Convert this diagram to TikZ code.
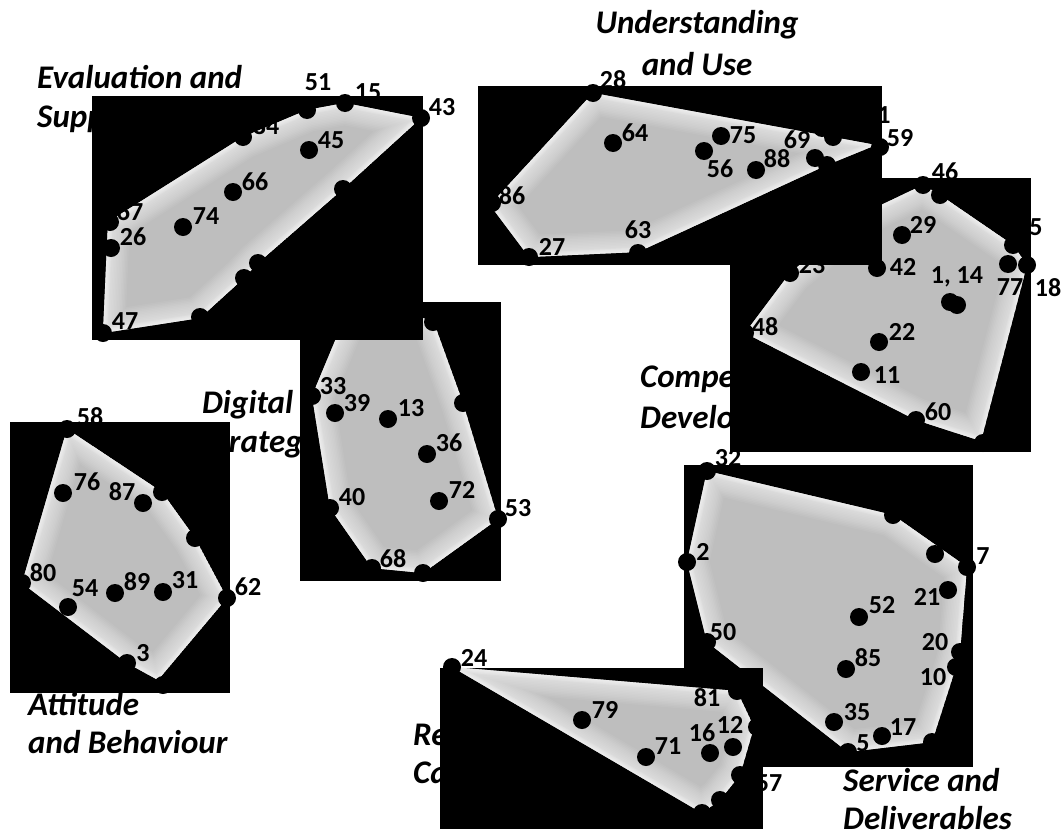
\documentclass[tikz,border=0pt]{standalone}
\usepackage{fontspec}
\setmainfont{Carlito}
\definecolor{hullgray}{RGB}{190,190,190}
\tikzset{
  hdot/.style={circle, fill=black, inner sep=0pt, minimum size=18pt},
  num/.style={font=\fontsize{26}{26}\selectfont\bfseries, inner sep=0pt, text=black},
  clab/.style={font=\fontsize{33}{36}\selectfont\bfseries\itshape, inner sep=0pt, anchor=base west},
  clabc/.style={clab, anchor=base},
  blackbox/.style={fill=black},
}
\newcommand{\hullfill}[1]{%
  \begin{scope}
    \clip #1;
    \fill[hullgray] #1;
    \foreach \ww in {44,41,...,2} {%
      \draw[white, line width=\ww pt, opacity=0.06, line join=round] #1;}
    \foreach \ww in {9,6,3} {%
      \draw[white, line width=\ww pt, opacity=0.15, line join=round] #1;}
  \end{scope}}
\begin{document}
\begin{tikzpicture}[x=1pt,y=-1pt]
\useasboundingbox (0,0) rectangle (1064,838);
\fill[white] (0,0) rectangle (1064,838);

% ---------- cluster names (below the boxes) ----------
\node[clab] (tEval1) at (37,88) {Evaluation and};
\node[clab] (tEval2) at (37,127) {Support};
\node[clabc] (tUnd1) at (697,33) {Understanding};
\node[clabc] (tUnd2) at (697,75) {and Use};
\node[clab] (tComp1) at (640,387) {Competence};
\node[clab] (tComp2) at (640,428) {Development};
\node[clab] (tDig1) at (202,413) {Digital};
\node[clab] (tDig2) at (202,452) {Strategy};
\node[clab] (tAtt1) at (28,715) {Attitude};
\node[clab] (tAtt2) at (28,753) {and Behaviour};
\node[clab] (tSer1) at (843,791) {Service and};
\node[clab] (tSer2) at (843,829) {Deliverables};
\node[clab] (tRes1) at (413,745) {Research and};
\node[clab] (tRes2) at (413,783) {Capacity};

% ---------- Attitude and Behaviour ----------
\fill[blackbox] (10,422) rectangle (230,693);
\hullfill{(67,429) -- (162,492) -- (195,538) -- (227,598) -- (158,680) -- (127,663) -- (22,583) -- cycle}
\node[hdot] (a58) at (67,429) {};
\node[hdot] (a76) at (63,493) {};
\node[hdot] (a87) at (143,503) {};
\node[hdot] (aA) at (162,492) {};
\node[hdot] (aB) at (195,538) {};
\node[hdot] (a62) at (227,598) {};
\node[hdot] (a80) at (22,583) {};
\node[hdot] (a54) at (68,607) {};
\node[hdot] (a89) at (115,593) {};
\node[hdot] (a31) at (163,592) {};
\node[hdot] (a3) at (127,663) {};
\node[hdot] (aC) at (163,685) {};
\node[num] (la58) at (90,417) {58};
\node[num] (la76) at (87,482) {76};
\node[num] (la87) at (122,492) {87};
\node[num] (la80) at (43,573) {80};
\node[num] (la54) at (85,588) {54};
\node[num] (la89) at (137,582) {89};
\node[num] (la31) at (185,580) {31};
\node[num] (la62) at (248,587) {62};
\node[num] (la3) at (143,653) {3};

% ---------- Digital Strategy ----------
\fill[blackbox] (300,302) rectangle (501,581);
\hullfill{(312,396) -- (350,305) -- (433,320) -- (463,403) -- (498,519) -- (423,573) -- (372,568) -- (330,508) -- cycle}
\node[hdot] (d33) at (312,396) {};
\node[hdot] (d39) at (335,413) {};
\node[hdot] (d13) at (388,419) {};
\node[hdot] (d36) at (427,454) {};
\node[hdot] (d72) at (439,501) {};
\node[hdot] (d40) at (330,508) {};
\node[hdot] (d68) at (372,568) {};
\node[hdot] (dA) at (423,573) {};
\node[hdot] (d53) at (498,519) {};
\node[hdot] (dB) at (463,403) {};
\node[hdot] (dC) at (433,322) {};
\node[num] (ld33) at (333,386) {33};
\node[num] (ld39) at (357,403) {39};
\node[num] (ld13) at (411,408) {13};
\node[num] (ld36) at (449,443) {36};
\node[num] (ld72) at (462,490) {72};
\node[num] (ld40) at (352,497) {40};
\node[num] (ld53) at (518,508) {53};
\node[num] (ld68) at (393,559) {68};

% ---------- Evaluation and Support ----------
\fill[blackbox] (92,96) rectangle (423,340);
\hullfill{(103,333) -- (108,222) -- (243,137) -- (307,110) -- (345,103) -- (421,118) -- (343,189) -- (258,263) -- (244,278) -- (200,318) -- cycle}
\node[hdot] (e47) at (103,333) {};
\node[hdot] (e67) at (110,222) {};
\node[hdot] (e26) at (111,248) {};
\node[hdot] (e74) at (183,227) {};
\node[hdot] (e66) at (233,192) {};
\node[hdot] (e84) at (243,137) {};
\node[hdot] (e51) at (307,110) {};
\node[hdot] (e15) at (345,103) {};
\node[hdot] (e43) at (421,118) {};
\node[hdot] (e45) at (309,150) {};
\node[hdot] (eA) at (343,189) {};
\node[hdot] (eB) at (258,263) {};
\node[hdot] (eC) at (244,278) {};
\node[hdot] (eD) at (200,317) {};
\node[num] (le51) at (318,82) {51};
\node[num] (le15) at (368,92) {15};
\node[num] (le43) at (442,107) {43};
\node[num] (le84) at (266,126) {84};
\node[num] (le45) at (331,140) {45};
\node[num] (le66) at (255,182) {66};
\node[num] (le74) at (206,216) {74};
\node[num] (le67) at (130,212) {67};
\node[num] (le26) at (133,237) {26};
\node[num] (le47) at (125,321) {47};

% ---------- Competence Development ----------
\fill[blackbox] (730,178) rectangle (1031,452);
\hullfill{(745,333) -- (790,273) -- (860,215) -- (923,185) -- (940,195) -- (1013,245) -- (1027,265) -- (981,441) -- (916,420) -- cycle}
\node[hdot] (c46) at (923,185) {};
\node[hdot] (cA) at (940,195) {};
\node[hdot] (c29) at (902,235) {};
\node[hdot] (c42) at (877,268) {};
\node[hdot] (c23) at (790,273) {};
\node[hdot] (c48) at (745,333) {};
\node[hdot] (c1) at (950,302) {};
\node[hdot] (c14) at (957,305) {};
\node[hdot] (c77) at (1008,264) {};
\node[hdot] (cB) at (1013,245) {};
\node[hdot] (c18) at (1027,265) {};
\node[hdot] (c22) at (879,342) {};
\node[hdot] (c11) at (861,372) {};
\node[hdot] (c60) at (916,420) {};
\node[hdot] (cC) at (983,443) {};
\node[num] (lc46) at (945,172) {46};
\node[num] (lc29) at (923,225) {29};
\node[num] (lc5) at (1036,227) {5};
\node[num] (lc42) at (903,267) {42};
\node[num] (lc114) at (957,277) {1, 14};
\node[num] (lc77) at (1010,287) {77};
\node[num] (lc18) at (1048,288) {18};
\node[num] (lc48) at (765,327) {48};
\node[num] (lc22) at (902,332) {22};
\node[num] (lc11) at (887,375) {11};
\node[num] (lc60) at (938,412) {60};
\node[num] (lc23) at (812,265) {23};

% ---------- Understanding and Use ----------
\fill[blackbox] (478,86) rectangle (882,265);
\hullfill{(593,93) -- (876,145) -- (827,165) -- (638,252) -- (529,257) -- (490,205) -- cycle}
\node[hdot] (u28) at (593,93) {};
\node[hdot] (u64) at (613,143) {};
\node[hdot] (u75) at (721,136) {};
\node[hdot] (u56) at (704,151) {};
\node[hdot] (u88) at (756,170) {};
\node[hdot] (uA) at (822,128) {};
\node[hdot] (uB) at (833,137) {};
\node[hdot] (u69) at (815,158) {};
\node[hdot] (uC) at (827,165) {};
\node[hdot] (u59) at (880,147) {};
\node[hdot] (u63) at (638,253) {};
\node[hdot] (u27) at (529,257) {};
\node[hdot] (u86) at (492,203) {};
\node[num] (lu28) at (613,80) {28};
\node[num] (lu64) at (635,133) {64};
\node[num] (lu75) at (743,135) {75};
\node[num] (lu69) at (797,140) {69};
\node[num] (lu56) at (720,169) {56};
\node[num] (lu88) at (777,159) {88};
\node[num] (lu86) at (512,196) {86};
\node[num] (lu27) at (552,247) {27};
\node[num] (lu63) at (638,230) {63};
\node[num] (lu59) at (900,138) {59};
\node[num] (lu1) at (884,115) {1};

% ---------- Service and Deliverables ----------
\fill[blackbox] (684,465) rectangle (973,767);
\hullfill{(707,471) -- (893,515) -- (967,567) -- (960,652) -- (956,667) -- (932,742) -- (848,752) -- (707,642) -- (687,562) -- cycle}
\node[hdot] (s32) at (707,471) {};
\node[hdot] (sA) at (893,515) {};
\node[hdot] (sB) at (935,554) {};
\node[hdot] (s7) at (967,567) {};
\node[hdot] (s21) at (948,590) {};
\node[hdot] (s52) at (859,617) {};
\node[hdot] (s20) at (960,652) {};
\node[hdot] (s10) at (956,667) {};
\node[hdot] (s85) at (846,669) {};
\node[hdot] (s50) at (707,642) {};
\node[hdot] (s2) at (687,562) {};
\node[hdot] (s35) at (834,722) {};
\node[hdot] (s17) at (882,736) {};
\node[hdot] (s5) at (848,752) {};
\node[hdot] (sC) at (932,742) {};
\node[num] (ls32) at (728,458) {32};
\node[num] (ls2) at (703,552) {2};
\node[num] (ls7) at (983,556) {7};
\node[num] (ls21) at (927,597) {21};
\node[num] (ls52) at (882,605) {52};
\node[num] (ls20) at (935,642) {20};
\node[num] (ls10) at (933,677) {10};
\node[num] (ls85) at (868,658) {85};
\node[num] (ls50) at (723,632) {50};
\node[num] (ls35) at (857,712) {35};
\node[num] (ls17) at (903,727) {17};
\node[num] (ls5) at (863,743) {5};

% ---------- Research and Capacity ----------
\fill[blackbox] (440,668) rectangle (763,829);
\hullfill{(452,667) -- (737,691) -- (754,727) -- (740,775) -- (720,800) -- (702,813) -- cycle}
\node[hdot] (r24) at (452,667) {};
\node[hdot] (r79) at (582,720) {};
\node[hdot] (r71) at (646,757) {};
\node[hdot] (r16) at (710,753) {};
\node[hdot] (r12) at (733,747) {};
\node[hdot] (r81) at (737,691) {};
\node[hdot] (rA) at (757,727) {};
\node[hdot] (r57) at (740,775) {};
\node[hdot] (rB) at (720,800) {};
\node[hdot] (rC) at (702,813) {};
\node[num] (lr24) at (474,658) {24};
\node[num] (lr81) at (707,698) {81};
\node[num] (lr79) at (605,710) {79};
\node[num] (lr71) at (668,746) {71};
\node[num] (lr16) at (702,733) {16};
\node[num] (lr12) at (730,725) {12};
\node[num] (lr57) at (769,783) {57};
\end{tikzpicture}
\end{document}
